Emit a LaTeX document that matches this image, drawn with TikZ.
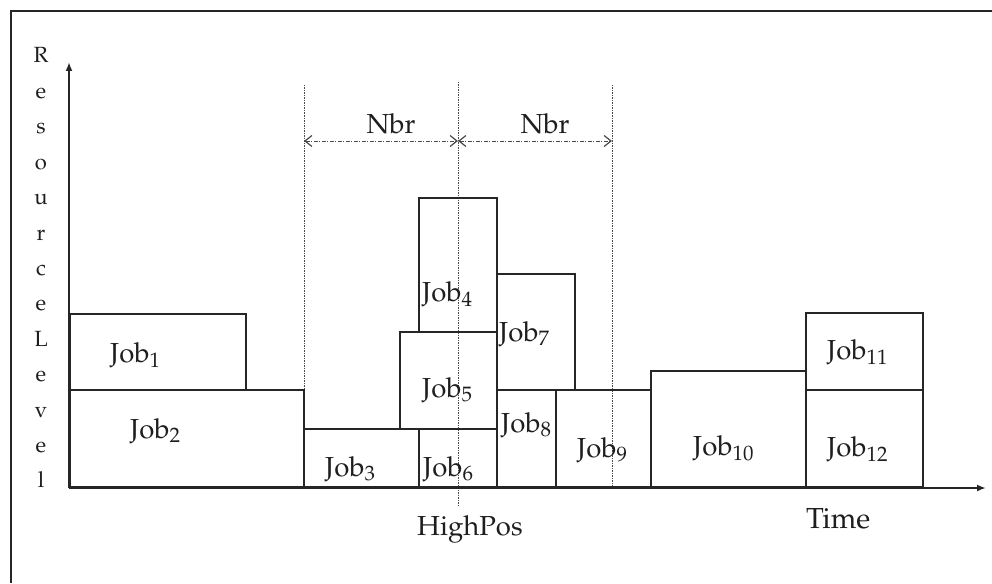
\documentclass[tikz,border=0pt]{standalone}
\usepackage[T1]{fontenc}
\usepackage{mathpazo}
\usetikzlibrary{arrows.meta}
\definecolor{lc}{HTML}{262626}
\definecolor{tc}{HTML}{1E1E1E}
\definecolor{gc}{HTML}{4A4A4A}
\begin{document}
\begin{tikzpicture}[x=1pt,y=-1pt,
  framestyle/.style={draw=lc,line width=2pt},
  box/.style={draw=lc,line width=2pt},
  axisline/.style={draw=lc,line width=1.8pt,-{Latex[length=9pt,width=7pt]}},
  guide/.style={draw=gc,line width=0.9pt,dash pattern=on 1.5pt off 1pt},
  nbrline/.style={draw=gc,line width=1pt,dash pattern=on 4pt off 1.5pt on 1pt off 1.5pt,
     {Straight Barb[length=7pt,width=11pt,line width=1.2pt]}-{Straight Barb[length=7pt,width=11pt,line width=1.2pt]}},
  lbl/.style={text=tc,font=\fontsize{27.5}{30}\selectfont,inner sep=0pt,anchor=base west},
  ylet/.style={text=tc,font=\fontsize{22}{24}\selectfont,inner sep=0pt,anchor=base}]
\useasboundingbox (0,0) rectangle (992,583);
\fill[white] (0,0) rectangle (992,583);
% frame
\draw[framestyle] (11,583) -- (11,11) -- (992,11);
% guides
\coordinate (gA1) at (304,85);  \coordinate (gA2) at (304,487);
\coordinate (gB1) at (458,82);  \coordinate (gB2) at (458,505);
\coordinate (gC1) at (612,85);  \coordinate (gC2) at (612,487);
\draw[guide] (gA1) -- (gA2);
\draw[guide] (gB1) -- (gB2);
\draw[guide] (gC1) -- (gC2);
% Nbr arrows
\coordinate (nA) at (304,141); \coordinate (nB) at (458,141); \coordinate (nC) at (612,141);
\draw[nbrline] (nA) -- (nB);
\draw[nbrline] (nB) -- (nC);
\node[text=tc,font=\fontsize{27.5}{30}\selectfont,inner sep=0pt,anchor=base] (nbr1) at (391,133) {Nbr};
\node[text=tc,font=\fontsize{27.5}{30}\selectfont,inner sep=0pt,anchor=base] (nbr2) at (545,133) {Nbr};
% job boxes
\draw[box] (70,314) rectangle (246,390);
\draw[box] (70,390) rectangle (304,487);
\draw[box] (304,429) rectangle (419,487);
\draw[box] (419,198) rectangle (497,332);
\draw[box] (400,332) rectangle (497,429);
\draw[box] (419,429) rectangle (497,487);
\draw[box] (497,274) rectangle (575,390);
\draw[box] (497,390) rectangle (556,487);
\draw[box] (556,390) rectangle (651,487);
\draw[box] (651,371) rectangle (806,487);
\draw[box] (806,313) rectangle (923,390);
\draw[box] (806,390) rectangle (923,487);
% axes
\coordinate (O) at (69,488);
\coordinate (ytop) at (69,62);
\coordinate (xend) at (986,488);
\draw[axisline] (O) -- (ytop);
\draw[axisline] (O) -- (xend);
% job labels
\node[lbl] (l1) at (110,362) {Job$_{1}$};
\node[lbl] (l2) at (130,438) {Job$_{2}$};
\node[lbl] (l3) at (325,476) {Job$_{3}$};
\node[lbl] (l4) at (422,301) {Job$_{4}$};
\node[lbl] (l5) at (422,397) {Job$_{5}$};
\node[lbl] (l6) at (423,476) {Job$_{6}$};
\node[lbl] (l7) at (499,341) {Job$_{7}$};
\node[lbl] (l8) at (501,432) {Job$_{8}$};
\node[lbl] (l9) at (577,457) {Job$_{9}$};
\node[lbl] (l10) at (693,455) {Job$_{10}$};
\node[lbl] (l11) at (827,359) {Job$_{11}$};
\node[lbl] (l12) at (827,456) {Job$_{12}$};
% axis labels
\node[lbl] (hp) at (417,535) {HighPos};
\node[lbl,font=\fontsize{29}{30}\selectfont] (tm) at (806,528) {Time};
\foreach \c [count=\i] in {R,e,s,o,u,r,c,e,L,e,v,e,l}
  \node[ylet] (yl\i) at (41,{63+(\i-1)*35.4}) {\c};
\end{tikzpicture}
\end{document}
